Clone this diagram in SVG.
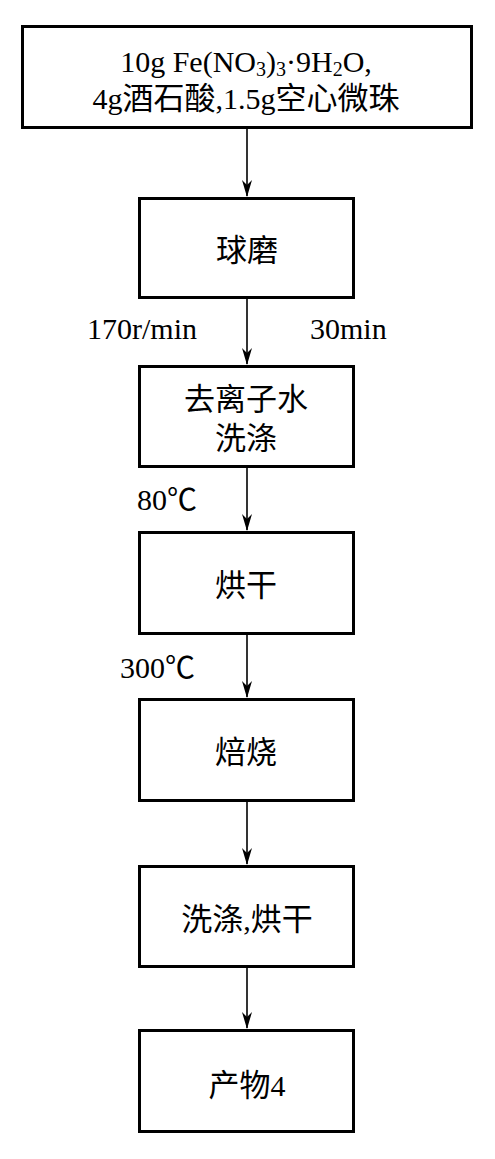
<svg xmlns="http://www.w3.org/2000/svg" width="495" height="1159" viewBox="0 0 495 1159">
<style>
.box{fill:#fff;stroke:#000;stroke-width:3}
.t{font-family:"Liberation Serif","Noto Sans CJK SC",serif;font-size:30px;fill:#000}
.c{text-anchor:middle}
.cn{font-size:31px}
.sub{font-size:20px}
.con{stroke:#000;stroke-width:1.6;fill:none;marker-end:url(#ah)}
</style>
<defs>
<marker id="ah" markerUnits="userSpaceOnUse" markerWidth="17" markerHeight="10" refX="16" refY="5" orient="auto" viewBox="0 0 17 10">
<path d="M0,0 L17,5 L0,10 L5,5 Z" fill="#000"/>
</marker>
</defs>
<rect width="495" height="1159" fill="#fff"/>
<g id="connectors">
<line class="con" x1="247" y1="129" x2="247" y2="196"/>
<line class="con" x1="247" y1="299" x2="247" y2="364"/>
<line class="con" x1="247" y1="468" x2="247" y2="530"/>
<line class="con" x1="247" y1="635" x2="247" y2="697"/>
<line class="con" x1="247" y1="802" x2="247" y2="864"/>
<line class="con" x1="247" y1="968" x2="247" y2="1028"/>
</g>
<g id="n1">
<rect class="box" x="22.5" y="26.5" width="449" height="101"/>
<text class="t c" x="246" y="72">10g Fe(NO<tspan class="sub" dy="4">3</tspan><tspan dy="-4">)</tspan><tspan class="sub" dy="4">3</tspan><tspan dy="-4">·9H</tspan><tspan class="sub" dy="4">2</tspan><tspan dy="-4">O,</tspan></text>
<text class="t c" x="246" y="109">4g<tspan class="cn">酒石酸</tspan>,1.5g<tspan class="cn">空心微珠</tspan></text>
</g>
<g id="n2">
<rect class="box" x="139.5" y="198.5" width="214" height="99"/>
<text class="t c cn" x="247" y="261">球磨</text>
</g>
<g id="n3">
<rect class="box" x="139.5" y="366.5" width="214" height="100"/>
<text class="t c cn" x="246" y="410">去离子水</text>
<text class="t c cn" x="246" y="449">洗涤</text>
</g>
<g id="n4">
<rect class="box" x="139.5" y="532.5" width="214" height="101"/>
<text class="t c cn" x="246" y="596">烘干</text>
</g>
<g id="n5">
<rect class="box" x="139.5" y="699.5" width="214" height="101"/>
<text class="t c cn" x="246" y="763">焙烧</text>
</g>
<g id="n6">
<rect class="box" x="139.5" y="866.5" width="214" height="100"/>
<text class="t c" x="247" y="930"><tspan class="cn">洗涤</tspan>,<tspan class="cn">烘干</tspan></text>
</g>
<g id="n7">
<rect class="box" x="139.5" y="1030.5" width="214" height="101"/>
<text class="t c" x="247" y="1096"><tspan class="cn">产物</tspan>4</text>
</g>
<g id="labels">
<text class="t" x="87" y="339">170r/min</text>
<text class="t" x="310" y="339">30min</text>
<text class="t" x="137" y="510">80℃</text>
<text class="t" x="120" y="678">300℃</text>
</g>
</svg>
